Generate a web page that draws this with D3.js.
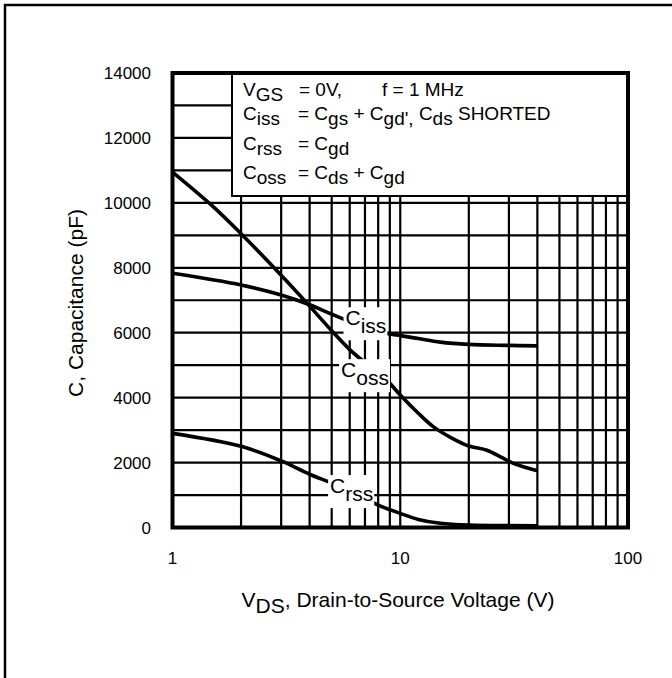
<!DOCTYPE html>
<html><head><meta charset="utf-8">
<script src="https://cdn.jsdelivr.net/npm/d3@7"></script>
<style>
body{margin:0;background:#fff}
text{font-family:"Liberation Sans",Arial,Helvetica,sans-serif;fill:#000}
</style>
</head><body>
<svg id="chart" width="672" height="678"></svg>
<script>
// ---- data ----
const xTickValues = [1, 10, 100];
const yTickValues = [0, 2000, 4000, 6000, 8000, 10000, 12000, 14000];
const xGridValues = [2,3,4,5,6,7,8,9,20,30,40,50,60,70,80,90];
const yGridValues = [1000,2000,3000,4000,5000,6000,7000,8000,9000,10000,11000,12000,13000];

const cissVds = [1,2,3,4,5,6,7,8,9,10,12,15,20,30,40];
const cissPf  = [7830,7470,7160,6860,6570,6340,6160,6040,5960,5910,5820,5710,5640,5610,5595];
const cossVds = [1,1.5,2,3,4,5,6,7,8,9,10,12,14,17,20,24,28,32,40];
const cossPf  = [10950,9900,9050,7770,6820,6060,5480,5080,4760,4440,4080,3520,3100,2740,2510,2380,2150,1950,1750];
const crssVds = [1,2,3,4,5,6,7,8,10,12,15,20,40];
const crssPf  = [2900,2500,2050,1640,1370,1120,900,690,435,250,130,75,55];

const curveLabels = [
  {main:"C", sub:"iss", vds:5.75, pf:6230},
  {main:"C", sub:"oss", vds:5.5,  pf:4630},
  {main:"C", sub:"rss", vds:4.92, pf:1060}
];

// ---- layout ----
const svg = d3.select("#chart");
const x = d3.scaleLog().domain([1,100]).range([172.5, 628]);
const y = d3.scaleLinear().domain([0,14000]).range([527.5, 73]);

svg.append("rect").attr("width",672).attr("height",678).attr("fill","#fff");

// outer frame (top and left visible)
svg.append("path").attr("d","M5,678 V5 H672").attr("fill","none")
  .attr("stroke","#000").attr("stroke-width",2.5);

const g = svg.append("g");

// grid
g.selectAll(".vg").data(xGridValues.concat([10])).enter().append("line")
  .attr("x1",d=>x(d)).attr("x2",d=>x(d)).attr("y1",y(14000)).attr("y2",y(0))
  .attr("stroke","#000").attr("stroke-width",2.2);
g.selectAll(".hg").data(yGridValues).enter().append("line")
  .attr("x1",x(1)).attr("x2",x(100)).attr("y1",d=>y(d)).attr("y2",d=>y(d))
  .attr("stroke","#000").attr("stroke-width",2.2);

// legend box
const lx0 = 232, ly1 = 196;
g.append("rect").attr("x",lx0).attr("y",y(14000)).attr("width",x(100)-lx0).attr("height",ly1-y(14000))
  .attr("fill","#fff").attr("stroke","#000").attr("stroke-width",2);

// curves
const line = d3.line().x(d=>x(d[0])).y(d=>y(d[1])).curve(d3.curveCatmullRom.alpha(0.5));
[[cissVds,cissPf],[cossVds,cossPf],[crssVds,crssPf]].forEach(([vv,pp])=>{
  g.append("path").datum(vv.map((v,i)=>[v,pp[i]])).attr("d",line)
   .attr("fill","none").attr("stroke","#000").attr("stroke-width",3.6)
   .attr("stroke-linejoin","round").attr("stroke-linecap","butt");
});

// curve labels with white background
curveLabels.forEach(l=>{
  const t = g.append("text").attr("x",x(l.vds)).attr("y",y(l.pf)).attr("font-size",21);
  t.append("tspan").text(l.main);
  t.append("tspan").attr("dy",8).text(l.sub);
  const b = t.node().getBBox();
  g.insert("rect", function(){return t.node();})
    .attr("x",b.x-2).attr("y",b.y+1).attr("width",b.width+3).attr("height",b.height+2)
    .attr("fill","#fff");
});

// plot frame
g.append("rect").attr("x",x(1)).attr("y",y(14000)).attr("width",x(100)-x(1)).attr("height",y(0)-y(14000))
  .attr("fill","none").attr("stroke","#000").attr("stroke-width",4);

// legend text
const fs = 19;
function legendLine(yb, parts){
  const t = g.append("text").attr("x",243).attr("y",yb).attr("font-size",fs);
  let shifted = false;
  parts.forEach(p=>{
    const s = t.append("tspan").text(p.t);
    if (p.x !== undefined) s.attr("x", p.x);
    if (p.sub && !shifted){ s.attr("dy",5); shifted=true; }
    else if (!p.sub && shifted){ s.attr("dy",-5); shifted=false; }
    else if (p.x !== undefined) s.attr("dy",0);
  });
}
legendLine(96, [{t:"V"},{t:"GS",sub:true},{t:"= 0V,",x:299},{t:"f = 1 MHz",x:382}]);
legendLine(120,[{t:"C"},{t:"iss",sub:true},{t:"= C",x:298},{t:"gs",sub:true},{t:" + C"},{t:"gd",sub:true},{t:"',",sub:true},{t:" C"},{t:"ds",sub:true},{t:" SHORTED"}]);
legendLine(150,[{t:"C"},{t:"rss",sub:true},{t:"= C",x:298},{t:"gd",sub:true}]);
legendLine(179,[{t:"C"},{t:"oss",sub:true},{t:"= C",x:298},{t:"ds",sub:true},{t:" + C"},{t:"gd",sub:true}]);

// axes tick labels
svg.selectAll(".xt").data(xTickValues).enter().append("text")
  .attr("x",d=>x(d)).attr("y",564).attr("text-anchor","middle").attr("font-size",17)
  .text(d=>d3.format("d")(d));
svg.selectAll(".yt").data(yTickValues).enter().append("text")
  .attr("x",151).attr("y",d=>y(d)+6).attr("text-anchor","end").attr("font-size",17)
  .text(d=>d3.format("d")(d));

// axis titles
const xt = svg.append("text").attr("x",398).attr("y",607).attr("text-anchor","middle").attr("font-size",21);
xt.append("tspan").text("V");
xt.append("tspan").attr("dy",6).text("DS");
xt.append("tspan").attr("dy",-6).text(", Drain-to-Source Voltage (V)");

svg.append("text").attr("transform","translate(83,303) rotate(-90)").attr("text-anchor","middle")
  .attr("font-size",21).text("C, Capacitance (pF)");
</script>
</body></html>
